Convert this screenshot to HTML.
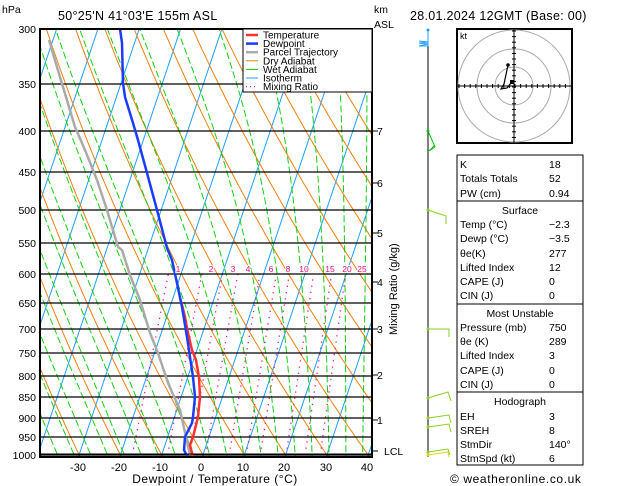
<!DOCTYPE html>
<html><head><meta charset="utf-8"><style>
body{margin:0;background:#fff;}
svg{display:block;font-family:"Liberation Sans",sans-serif;}
</style></head><body>
<svg id="s" width="629" height="486" viewBox="0 0 629 486" xmlns="http://www.w3.org/2000/svg">
<defs><clipPath id="c"><rect x="40" y="29" width="332" height="428"/></clipPath></defs>
<g id="bg" clip-path="url(#c)"></g>
<g id="fg"></g>
</svg>
<script>
const NS="http://www.w3.org/2000/svg";
const bg=document.getElementById('bg'),fg=document.getElementById('fg');
function el(p,t,a,txt){const e=document.createElementNS(NS,t);for(const k in a)e.setAttribute(k,a[k]);if(txt!==undefined)e.textContent=txt;p.appendChild(e);return e;}
const Y=p=>29+353.8*Math.log(p/300);
const X=(T,p)=>203+4.13*T+0.335*(455-Y(p));
function poly(g,pts,st){el(g,'polyline',Object.assign({points:pts.map(a=>a[0].toFixed(1)+','+a[1].toFixed(1)).join(' '),fill:'none'},st));}
const ps=[];for(let p=1050;p>=280;p-=5)ps.push(p);
for(let T=-120;T<=50;T+=10)poly(bg,[[X(T,1050),Y(1050)],[X(T,280),Y(280)]],{stroke:'#1ea0ff','stroke-width':1});
for(let t=-60;t<=140;t+=10){const th=t+273.15;poly(bg,ps.map(p=>[X(th*Math.pow(p/1000,0.286)-273.15,p),Y(p)]),{stroke:'#f08010','stroke-width':1});}
function es(T){return 6.112*Math.exp(17.67*T/(T+243.5));}
function ws(T,p){const e=es(T);return 0.622*e/(p-e);}
function dTdp(T,p){const Tk=T+273.15,w=ws(T,p),L=2.5e6,Rd=287,cp=1004;
return (Rd*Tk+L*w)/(p*(cp+L*L*w*0.622/(Rd*Tk*Tk)));}
for(let t=-40;t<=44;t+=4){let T=t,pts=[];for(let p=1050;p>=280;p-=2){pts.push([X(T,p),Y(p)]);T-=dTdp(T,p)*2;}
poly(bg,pts,{stroke:'#10d010','stroke-width':1,'stroke-dasharray':'7,3'});}
const mr=[1,2,3,4,6,8,10,15,20,25];
const mrx=[178,211,233,248,271,288,304,330,347,362];
function tdw(w,p){const e=w/1000*p/(0.622+w/1000);const l=Math.log(e/6.112);return 243.5*l/(17.67-l);}
mr.forEach((w,i)=>{poly(bg,[1000,600].map(p=>[X(tdw(w,p),p),Y(p)]),{stroke:'#ff1493','stroke-width':1.3,'stroke-dasharray':'1.3,5'});});
[300,350,400,450,500,550,600,650,700,750,800,850,900,950,1000].forEach(p=>{const y=Math.round(Y(p));
el(bg,'line',{x1:40,x2:372,y1:y,y2:y,stroke:'#000','stroke-width':1.2});
el(fg,'text',{x:36,y:y+4,'font-size':10.5,'text-anchor':'end'},p);});
poly(bg,[[190,455],[180,410],[168,383],[158,353],[150,333],[140,300],[130,275],[122,250],[118,247],[107,210],[97,180],[85,150],[75,127],[63,87],[57,67],[49,40]],{stroke:'#aaa','stroke-width':2.5});
poly(bg,[[193,457],[190,445],[193,437],[198,417],[200,397],[199,377],[196,360],[192,350],[188,333],[185,317],[182,305],[180,298]],{stroke:'#ff3030','stroke-width':2.5});
poly(bg,[[188,458],[184,450],[185,437],[192,423],[193,417],[195,397],[193,377],[190,357],[187,337],[182,307],[177,283],[172,260],[167,248],[157,210],[147,173],[138,140],[133,123],[125,97],[123,83],[122,43],[120,29]],{stroke:'#1a3cff','stroke-width':2.5});
mr.forEach((w,i)=>{const t=el(fg,'text',{x:mrx[i],y:272,'font-size':8.5,fill:'#e0107a','text-anchor':'middle'},w);
});
mr.forEach((w,i)=>{});
el(fg,'rect',{x:40,y:29,width:332,height:428,fill:'none',stroke:'#000','stroke-width':2});
el(fg,'line',{x1:40,x2:372,y1:454,y2:454,stroke:'#000','stroke-width':1});
[-30,-20,-10,0,10,20,30,40].forEach((t,i)=>el(fg,'text',{x:[78,119,160,201,243,284,326,367][i],y:471,'font-size':11,'text-anchor':'middle'},t));
el(fg,'text',{x:215,y:483,'font-size':12,'text-anchor':'middle','letter-spacing':'0.5'},'Dewpoint / Temperature (°C)');
[[7,131],[6,183],[5,233],[4,282],[3,329],[2,375],[1,420],['LCL',451]].forEach(a=>{el(fg,'line',{x1:372,x2:378,y1:a[1],y2:a[1],stroke:'#000'});
el(fg,'text',{x:a[0]=='LCL'?384:377,y:a[1]+4,'font-size':10.5},a[0]);});
el(fg,'text',{x:0,y:0,'font-size':11,transform:'translate(397,335) rotate(-90)'},'Mixing Ratio (g/kg)');
el(fg,'text',{x:2,y:13,'font-size':10.5},'hPa');
el(fg,'text',{x:58,y:20,'font-size':12.5,'letter-spacing':'0.3'},"50°25'N 41°03'E 155m ASL");
el(fg,'text',{x:374,y:13,'font-size':10.5},'km');
el(fg,'text',{x:374,y:28,'font-size':10.5},'ASL');
el(fg,'text',{x:410,y:20,'font-size':12.5,'letter-spacing':'0.3'},'28.01.2024 12GMT (Base: 00)');
el(fg,'rect',{x:243,y:29,width:129,height:63,fill:'#fff',stroke:'#000','stroke-width':1});
[['Temperature','#ff3030',2.5,''],['Dewpoint','#1a3cff',2.5,''],['Parcel Trajectory','#aaa',2.5,''],['Dry Adiabat','#f08010',1,''],['Wet Adiabat','#10d010',1,''],['Isotherm','#1ea0ff',1,''],['Mixing Ratio','#ff1493',1.3,'1,3']].forEach((a,i)=>{const y=35+i*8.6;
el(fg,'line',{x1:246,x2:258,y1:y,y2:y,stroke:a[1],'stroke-width':a[2],'stroke-dasharray':a[3]});
el(fg,'text',{x:263,y:y+3.5,'font-size':10},a[0]);});
el(fg,'line',{x1:428,x2:428,y1:29,y2:457,stroke:'#000','stroke-width':1});
function barb(y,c,pts){poly(fg,pts.map(a=>[428+a[0],y+a[1]]),{stroke:c,'stroke-width':1});el(fg,'circle',{cx:428,cy:y,r:1.5,fill:c});}
barb(30,'#1ea0ff',[[0,0],[0,16],[-9,16],[0,14],[-9,13],[0,12],[-9,11]]);
barb(131,'#10c010',[[0,0],[7,16],[1,20],[6,15]]);
barb(210,'#8ad020',[[0,0],[18,6],[18,14]]);
barb(329,'#8ad020',[[0,0],[21,0],[21,8]]);
barb(398,'#8ad020',[[0,0],[20,-6],[23,3]]);
barb(418,'#8ad020',[[0,0],[21,-3],[23,5]]);
barb(427,'#8ad020',[[0,0],[21,-3],[23,5]]);
barb(455,'#e8d020',[[0,0],[20,-3],[21,2]]);
barb(452,'#8ad020',[[0,0],[20,-3],[22,3]]);
const hx=514,hy=86;
el(fg,'rect',{x:457,y:29,width:115,height:114,fill:'#fff',stroke:'#000','stroke-width':2});
[19,37,56].forEach(r=>el(fg,'circle',{cx:hx,cy:hy,r:r,fill:'none',stroke:'#aaa','stroke-width':1}));
el(fg,'line',{x1:457,x2:572,y1:hy,y2:hy,stroke:'#000'});el(fg,'line',{x1:hx,x2:hx,y1:29,y2:143,stroke:'#000'});
for(let i=-55;i<=55;i+=5.6){el(fg,'line',{x1:hx+i,x2:hx+i,y1:hy-2,y2:hy+2,stroke:'#000'});el(fg,'line',{y1:hy+i,y2:hy+i,x1:hx-2,x2:hx+2,stroke:'#000'});}
el(fg,'text',{x:460,y:39,'font-size':9},'kt');
poly(fg,[[508,65],[504,84],[501,89],[507,88],[511,83],[514,82]],{stroke:'#000','stroke-width':1.2});
el(fg,'circle',{cx:508,cy:65,r:1.8});el(fg,'rect',{x:510,y:80,width:4,height:4});
el(fg,'rect',{x:457,y:155,width:126,height:310,fill:'#fff',stroke:'#000','stroke-width':1});
[201,304,392].forEach(y=>el(fg,'line',{x1:457,x2:583,y1:y,y2:y,stroke:'#000'}));
const rows=[[164,'K','18'],[178,'Totals Totals','52'],[193,'PW (cm)','0.94'],[210,'Surface',null],[224,'Temp (°C)','−2.3'],[238,'Dewp (°C)','−3.5'],[253,'θe(K)','277'],[267,'Lifted Index','12'],[281,'CAPE (J)','0'],[295,'CIN (J)','0'],[313,'Most Unstable',null],[327,'Pressure (mb)','750'],[341,'θe (K)','289'],[355,'Lifted Index','3'],[370,'CAPE (J)','0'],[384,'CIN (J)','0'],[401,'Hodograph',null],[416,'EH','3'],[430,'SREH','8'],[444,'StmDir','140°'],[458,'StmSpd (kt)','6']];
rows.forEach(r=>{if(r[2]===null)el(fg,'text',{x:520,y:r[0]+4,'font-size':10.5,'text-anchor':'middle'},r[1]);
else{el(fg,'text',{x:460,y:r[0]+4,'font-size':10.5},r[1]);el(fg,'text',{x:549,y:r[0]+4,'font-size':10.5},r[2]);}});
el(fg,'text',{x:450,y:483,'font-size':12,'letter-spacing':'0.6'},'© weatheronline.co.uk');
// bring mixing ratio labels in front with white halo
document.querySelectorAll('#fg text[fill="#e0107a"]').forEach(t=>{t.setAttribute('stroke','#fff');t.setAttribute('stroke-width','2');t.setAttribute('paint-order','stroke');});
</script>
</body></html>
